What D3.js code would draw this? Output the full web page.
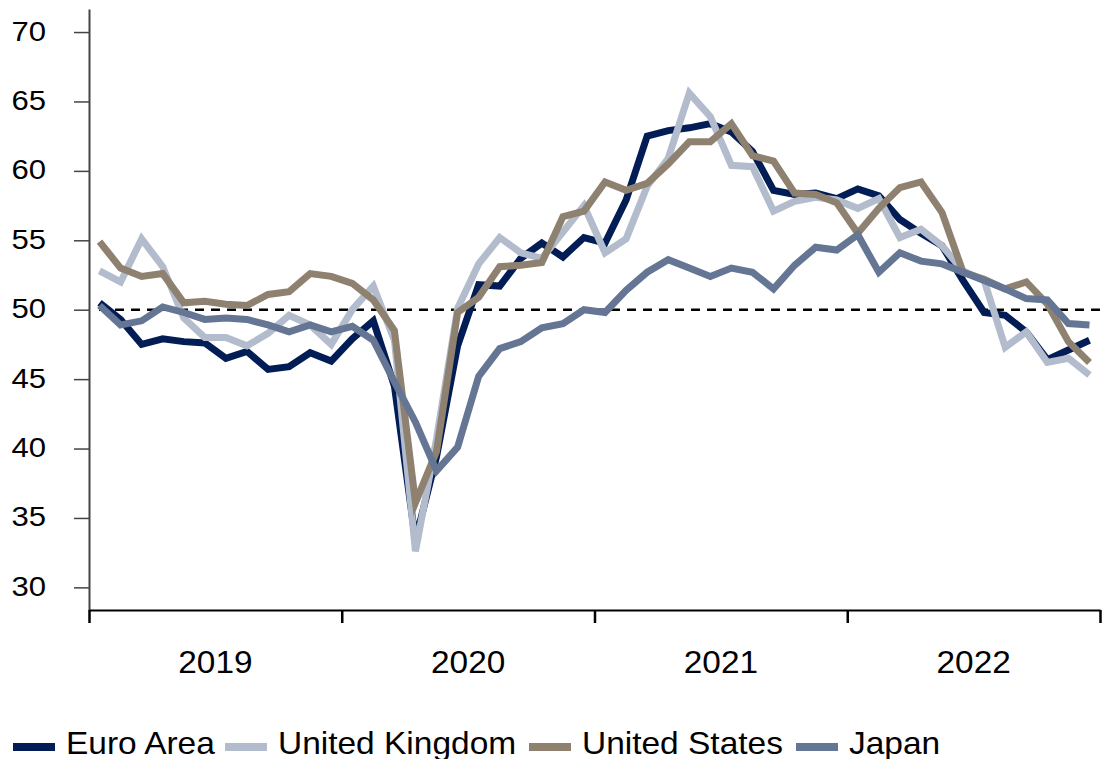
<!DOCTYPE html>
<html>
<head>
<meta charset="utf-8">
<script src="https://cdn.jsdelivr.net/npm/d3@7/dist/d3.min.js"></script>
<style>
  html, body { margin: 0; padding: 0; background: #fff; }
  svg { display: block; font-family: "Liberation Sans", Arial, sans-serif; }
</style>
</head>
<body>
<svg id="chart" width="1109" height="759"></svg>
<script>
// Monthly manufacturing PMI, Jan 2019 – Dec 2022
const years = ["2019", "2020", "2021", "2022"];
const yTicks = [30, 35, 40, 45, 50, 55, 60, 65, 70];
const seriesNames = ["Euro Area", "United Kingdom", "United States", "Japan"];
const seriesColors = ["#021d56", "#b3bccd", "#8e8170", "#657594"];

const euroArea = [50.5, 49.3, 47.5, 47.9, 47.7, 47.6, 46.5, 47.0, 45.7, 45.9, 46.9, 46.3,
                  47.9, 49.2, 44.5, 33.4, 39.4, 47.4, 51.8, 51.7, 53.7, 54.8, 53.8, 55.2,
                  54.8, 57.9, 62.5, 62.9, 63.1, 63.4, 62.8, 61.4, 58.6, 58.3, 58.4, 58.0,
                  58.7, 58.2, 56.5, 55.5, 54.6, 52.1, 49.8, 49.6, 48.4, 46.4, 47.1, 47.8];
const unitedKingdom = [52.8, 52.0, 55.1, 53.1, 49.4, 48.0, 48.0, 47.4, 48.3, 49.6, 48.9, 47.5,
                  50.0, 51.7, 47.8, 32.6, 40.7, 50.1, 53.3, 55.2, 54.1, 53.7, 55.6, 57.5,
                  54.1, 55.1, 58.9, 60.9, 65.6, 63.9, 60.4, 60.3, 57.1, 57.8, 58.1, 57.9,
                  57.3, 58.0, 55.2, 55.8, 54.6, 52.8, 52.1, 47.3, 48.4, 46.2, 46.5, 45.3];
const unitedStates = [54.9, 53.0, 52.4, 52.6, 50.5, 50.6, 50.4, 50.3, 51.1, 51.3, 52.6, 52.4,
                  51.9, 50.7, 48.5, 36.1, 39.8, 49.8, 50.9, 53.1, 53.2, 53.4, 56.7, 57.1,
                  59.2, 58.6, 59.1, 60.5, 62.1, 62.1, 63.4, 61.1, 60.7, 58.4, 58.3, 57.7,
                  55.5, 57.3, 58.8, 59.2, 57.0, 52.7, 52.2, 51.5, 52.0, 50.4, 47.7, 46.2];
const japan = [50.3, 48.9, 49.2, 50.2, 49.8, 49.3, 49.4, 49.3, 48.9, 48.4, 48.9, 48.4,
                  48.8, 47.8, 44.8, 41.9, 38.4, 40.1, 45.2, 47.2, 47.7, 48.7, 49.0, 50.0,
                  49.8, 51.4, 52.7, 53.6, 53.0, 52.4, 53.0, 52.7, 51.5, 53.2, 54.5, 54.3,
                  55.4, 52.7, 54.1, 53.5, 53.3, 52.7, 52.1, 51.5, 50.8, 50.7, 49.0, 48.9];
const referenceLevel = 50;

(function () {
const allSeries = [euroArea, unitedKingdom, unitedStates, japan];

const svg = d3.select("#chart");

const plotLeft = 89, plotRight = 1100, plotTop = 9, plotBottom = 610;
const nMonths = euroArea.length;

const x = d3.scaleLinear().domain([0, nMonths]).range([plotLeft, plotRight]);
const y = d3.scaleLinear().domain([28.37, 71.66]).range([plotBottom, plotTop]);

// Reference dashed line at 50
svg.append("line")
  .attr("x1", x(0) + 10).attr("x2", x(nMonths))
  .attr("y1", y(referenceLevel)).attr("y2", y(referenceLevel))
  .attr("stroke", "#000").attr("stroke-width", 2.6)
  .attr("stroke-dasharray", "9,7");

// Series
const line = d3.line()
  .x((d, i) => x(i + 0.5))
  .y(d => y(d));

allSeries.forEach((s, k) => {
  svg.append("path")
    .datum(s)
    .attr("fill", "none")
    .attr("stroke", seriesColors[k])
    .attr("stroke-width", 7)
    .attr("stroke-linejoin", "miter")
    .attr("d", line);
});

// Y axis
const yAxis = d3.axisLeft(y).tickValues(yTicks).tickSizeInner(15).tickSizeOuter(0).tickFormat(d3.format("d"));
const gy = svg.append("g").attr("transform", `translate(${plotLeft},0)`).call(yAxis);
gy.select(".domain").attr("stroke", "#444").attr("stroke-width", 2);
gy.selectAll(".tick line").attr("stroke", "#444").attr("stroke-width", 1.5);
gy.selectAll(".tick text").remove();
gy.selectAll(".tick").append("g")
  .attr("transform", "translate(-43,8) scale(1.15,1)")
  .append("text")
  .attr("text-anchor", "end")
  .attr("font-size", 27)
  .attr("fill", "#000")
  .text(d => d);

// X axis
const xAxis = d3.axisBottom(x).tickValues(d3.range(0, nMonths + 1, 12)).tickSizeInner(13).tickSizeOuter(0).tickFormat("");
const gx = svg.append("g").attr("transform", `translate(0,${plotBottom})`).call(xAxis);
gx.select(".domain").attr("stroke", "#000").attr("stroke-width", 2);
gx.selectAll(".tick line").attr("stroke", "#000").attr("stroke-width", 2.5);

// Year labels
svg.append("g").selectAll("g")
  .data(years)
  .join("g")
  .attr("transform", (d, i) => `translate(${x(i * 12 + 6)},673) scale(1.06,1)`)
  .append("text")
  .attr("text-anchor", "middle")
  .attr("font-size", 31.5)
  .attr("fill", "#000")
  .text(d => d);

// Legend
const legendSwatchX = [13, 225, 529, 796];
const legend = svg.append("g");
seriesNames.forEach((name, k) => {
  legend.append("rect")
    .attr("x", legendSwatchX[k]).attr("y", 743)
    .attr("width", 42).attr("height", 8)
    .attr("fill", seriesColors[k]);
  legend.append("g")
    .attr("transform", `translate(${legendSwatchX[k] + 53},754) scale(1.08,1)`)
    .append("text")
    .attr("font-size", 31)
    .attr("fill", "#000")
    .text(name);
});
})();
</script>
</body>
</html>
